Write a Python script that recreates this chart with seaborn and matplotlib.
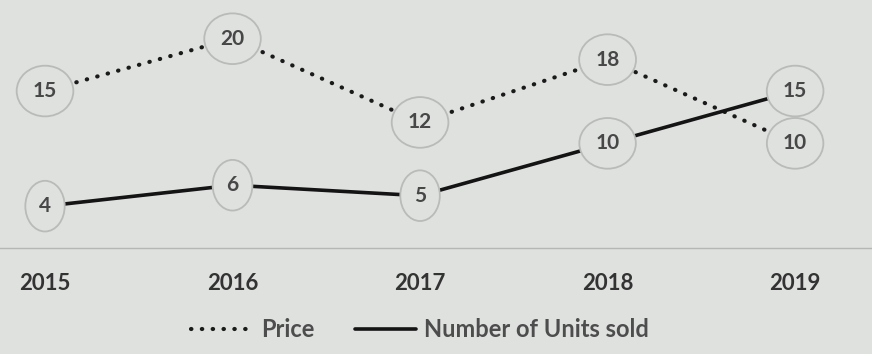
import matplotlib
matplotlib.use("Agg")
import matplotlib.pyplot as plt
import seaborn as sns
import pandas as pd

years = ["2015", "2016", "2017", "2018", "2019"]
price = [15, 20, 12, 18, 10]
units_sold = [4, 6, 5, 10, 15]

sns.set_theme(style="white")
plt.rcParams["font.family"] = ["Lato", "DejaVu Sans"]

bg = "#dfe1df"
fig = plt.figure(figsize=(8.72, 3.54), dpi=100, facecolor=bg)
ax = fig.add_axes([0.0, 1 - 248 / 354, 1.0, 248 / 354])
ax.set_facecolor(bg)

df = pd.DataFrame({"pos": range(len(years)), "year": years,
                   "Price": price, "Number of Units sold": units_sold})

sns.lineplot(data=df, x="pos", y="Price", ax=ax, color="#1a1a1a",
             linewidth=3.0, label="Price", zorder=2)
ax.lines[-1].set_linestyle((0, (0.1, 2.5)))
ax.lines[-1].set_dash_capstyle("round")
sns.lineplot(data=df, x="pos", y="Number of Units sold", ax=ax,
             color="#141414", linewidth=2.6, label="Number of Units sold",
             zorder=2)

# value labels inside ellipses that cover the line ends
for col in ["Price", "Number of Units sold"]:
    for x, v in zip(df["pos"], df[col]):
        ax.text(x, v, str(v), ha="center", va="center", fontsize=15,
                fontweight="bold", color="#474747", zorder=4,
                bbox=dict(boxstyle="ellipse,pad=0.38", facecolor=bg,
                          edgecolor="#b9bbb9", linewidth=1.3))

ax.set_xlim(-0.24, 4.41)
ax.set_ylim(0, 23.7)
ax.set_xticks(df["pos"])
ax.set_xticklabels(years, fontsize=16, fontweight="bold", color="#333333")
ax.tick_params(axis="x", length=0, pad=18)
ax.set_yticks([])
ax.set_xlabel("")
ax.set_ylabel("")
for side in ["top", "left", "right"]:
    ax.spines[side].set_visible(False)
ax.spines["bottom"].set_color("#b5b7b5")
ax.spines["bottom"].set_linewidth(1.0)

handles, labels = ax.get_legend_handles_labels()
ax.get_legend().remove()
leg = fig.legend(handles, labels, loc="center", bbox_to_anchor=(0.482, 0.068),
                 ncol=2, frameon=False, handlelength=2.6,
                 handletextpad=0.35, columnspacing=1.7,
                 prop={"weight": "bold", "size": 17})
for t in leg.get_texts():
    t.set_color("#4d4d4d")

fig.savefig("out.png", dpi=100, facecolor=bg)
